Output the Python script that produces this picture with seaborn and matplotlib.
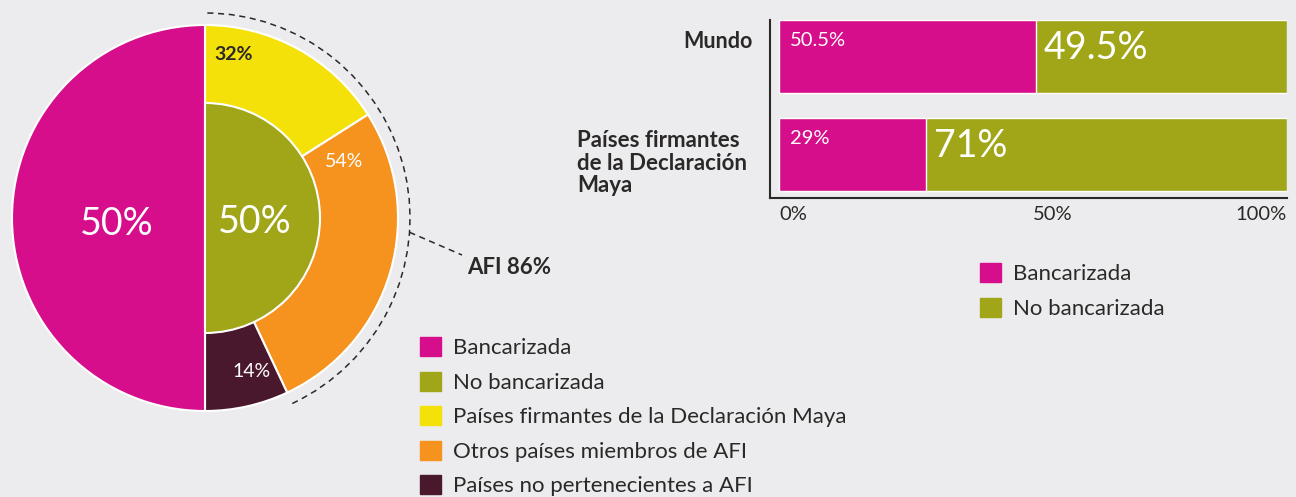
import numpy as np
import pandas as pd
import seaborn as sns
from matplotlib import pyplot as plt
from matplotlib.patches import Arc, Patch

# datos del gráfico
pie_labels = ['Bancarizada', 'No bancarizada']
pie_values = [50, 50]
afi_labels = ['Países firmantes de la Declaración Maya', 'Otros países miembros de AFI',
              'Países no pertenecientes a AFI']
afi_values = [32, 54, 14]

bar_regions = ['Mundo', 'Países firmantes\nde la Declaración\nMaya']
bar_banked = [50.5, 29]
bar_unbanked = [49.5, 71]
bar_ticks = [0, 50, 100]

MAGENTA = '#D60E8C'
GREEN = '#A0A617'
YELLOW = '#F5E10A'
ORANGE = '#F6931F'
MAROON = '#4A182D'
INK = '#2B2828'
BG = '#ECECEE'

sns.set_theme(style='white')
plt.rcParams['font.family'] = ['Lato', 'DejaVu Sans']
plt.rcParams['figure.facecolor'] = BG
plt.rcParams['axes.facecolor'] = BG

W, H = 1296, 497
fig = plt.figure(figsize=(W / 100, H / 100), dpi=100)


def fx(x):
    return x / W


def fy(y):
    return 1 - y / H


# ---- gráfico circular (ejes en píxeles) ----
pax = fig.add_axes([0, 0, 1, 1])
pax.patch.set_alpha(0)
cx, cy, R, r = 205, H - 218, 193, 115
half = pie_values[1]
outer_vals = [v * half / 100 for v in afi_values] + [pie_values[0]]
pax.pie(outer_vals, colors=[YELLOW, ORANGE, MAROON, MAGENTA], startangle=90, counterclock=False,
        radius=R, center=(cx, cy), wedgeprops=dict(edgecolor='white', linewidth=1.5))
inner, _ = pax.pie([pie_values[1], pie_values[0]], colors=[GREEN, 'none'], startangle=90,
                   counterclock=False, radius=r, center=(cx, cy),
                   wedgeprops=dict(edgecolor='white', linewidth=1.5))
inner[1].set_visible(False)
pax.set_xlim(0, W)
pax.set_ylim(0, H)
pax.axis('off')


def polar(ang, rad):
    a = np.deg2rad(ang)
    return cx + rad * np.cos(a), cy + rad * np.sin(a)


pax.text(*polar(184, 88), f'{pie_values[0]}%', color='white', fontsize=27,
         ha='center', va='center')
pax.text(*polar(-5, 50), f'{pie_values[1]}%', color='white', fontsize=27,
         ha='center', va='center')
pax.text(*polar(80, 166), f'{afi_values[0]}%', color=INK, fontsize=14, fontweight='bold',
         ha='center', va='center')
pax.text(*polar(22, 150), f'{afi_values[1]}%', color='white', fontsize=14,
         ha='center', va='center')
pax.text(*polar(-73, 160), f'{afi_values[2]}%', color='white', fontsize=14,
         ha='center', va='center')

# arco AFI
afi_total = afi_values[0] + afi_values[1]
pax.add_patch(Arc((cx, cy), 410, 410, theta1=90 - afi_total / 100 * 180, theta2=90,
                  color=INK, lw=1.1, ls=(0, (4, 3))))
x0, y0 = polar(-4, 205)
pax.plot([x0, 462], [y0, H - 255], color=INK, lw=1.1, ls=(0, (4, 3)))
pax.text(467, H - 268, f'AFI {afi_total}%', color=INK, fontsize=16, fontweight='bold',
         ha='left', va='center')

pie_handles = [Patch(color=c, label=l) for c, l in
               zip([MAGENTA, GREEN, YELLOW, ORANGE, MAROON], pie_labels + afi_labels)]
fig.legend(handles=pie_handles, loc='upper left', bbox_to_anchor=(fx(420), fy(337)),
           frameon=False, fontsize=16, handlelength=0.95, handleheight=0.95,
           handletextpad=0.55, labelspacing=0.6, borderpad=0, borderaxespad=0,
           labelcolor=INK)

# ---- barras apiladas ----
bax = fig.add_axes([fx(770), fy(198), fx(1287) - fx(770), (198 - 20) / H])
df = pd.DataFrame({'region': bar_regions, 'banked': bar_banked,
                   'total': np.add(bar_banked, bar_unbanked)})
sns.barplot(data=df, x='total', y='region', orient='h', color=GREEN, saturation=1,
            width=0.75, ax=bax)
sns.barplot(data=df, x='banked', y='region', orient='h', color=MAGENTA, saturation=1,
            width=0.75, ax=bax)
bax.set_xlim(-1.77, 100)
bax.set_ylim(1.446, -0.375)
bax.patch.set_alpha(0)
for s in ['top', 'right']:
    bax.spines[s].set_visible(False)
for s in ['left', 'bottom']:
    bax.spines[s].set_color(INK)
    bax.spines[s].set_linewidth(1.5)
bax.set_xlabel('')
bax.set_ylabel('')
bax.set_yticks([])
bax.set_xticks(bar_ticks)
bax.set_xticklabels([f'{t}%' for t in bar_ticks], fontsize=14.5, color=INK)
for lab, ha in zip(bax.get_xticklabels(), ['left', 'left', 'right']):
    lab.set_ha(ha)
bax.tick_params(axis='x', length=0, pad=6)

for i, (b, u) in enumerate(zip(bar_banked, bar_unbanked)):
    bax.annotate(f'{b:g}%', xy=(0, i - 0.375), xytext=(11, -21), textcoords='offset pixels',
                 color='white', fontsize=14.5, ha='left', va='center')
    bax.annotate(f'{u:g}%', xy=(b, i - 0.375), xytext=(8, -28), textcoords='offset pixels',
                 color='white', fontsize=27, ha='left', va='center')

fig.text(fx(753), fy(42), bar_regions[0], color=INK, fontsize=15.5, fontweight='bold',
         ha='right', va='center')
fig.text(fx(577), fy(130), bar_regions[1], color=INK, fontsize=16, fontweight='bold',
         ha='left', va='top', linespacing=1.1)

bar_handles = [Patch(color=c, label=l) for c, l in zip([MAGENTA, GREEN], pie_labels)]
fig.legend(handles=bar_handles, loc='upper left', bbox_to_anchor=(fx(980), fy(263)),
           frameon=False, fontsize=16, handlelength=0.95, handleheight=0.95,
           handletextpad=0.55, labelspacing=0.6, borderpad=0, borderaxespad=0,
           labelcolor=INK)

fig.savefig('out.png', dpi=100, facecolor=BG)
